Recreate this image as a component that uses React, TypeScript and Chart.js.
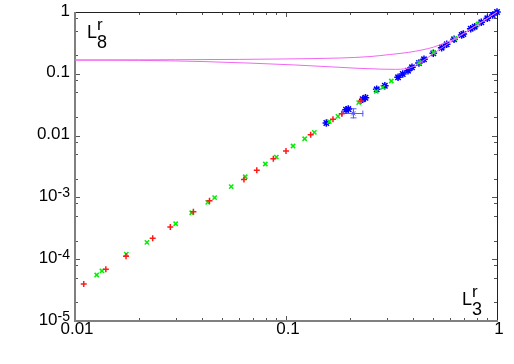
import React, { useEffect, useRef } from 'react';
import { Chart, registerables } from 'chart.js';

Chart.register(...registerables);

// ---- data ----
const redX = [0.011, 0.014, 0.01745, 0.02335, 0.0283, 0.0364, 0.0434, 0.0632, 0.0727, 0.0871, 0.1, 0.1309, 0.167, 0.1837, 0.2268];
const redY = [3.97e-5, 6.87e-5, 1.115e-4, 2.18e-4, 3.32e-4, 5.87e-4, 8.85e-4, 1.95e-3, 2.75e-3, 4.22e-3, 5.63e-3, 0.01035, 0.01836, 0.0226, 0.0363];

const greenX = [0.01267, 0.01342, 0.0175, 0.02193, 0.03, 0.03573, 0.04256, 0.0459, 0.055, 0.0641, 0.0798, 0.09, 0.108, 0.1226, 0.1362, 0.1604, 0.1763, 0.2211, 0.2679, 0.2873, 0.3155, 0.4266, 0.5, 0.632, 0.813];
const greenY = [5.55e-5, 6.45e-5, 1.21e-4, 1.875e-4, 3.75e-4, 5.64e-4, 8.33e-4, 9.9e-4, 1.49e-3, 2.16e-3, 3.47e-3, 4.5e-3, 6.79e-3, 8.9e-3, 0.0113, 0.0168, 0.0205, 0.0341, 0.0521, 0.0605, 0.0765, 0.151, 0.221, 0.373, 0.64];

const blueX = [0.1553, 0.1925, 0.1974, 0.231, 0.238, 0.2691, 0.294, 0.3397, 0.3575, 0.3786, 0.3954, 0.4266, 0.4508, 0.4989, 0.5466, 0.5776, 0.6258, 0.68, 0.6925, 0.7505, 0.7839, 0.8424, 0.8995, 0.954, 1.0];
const blueY = [0.016, 0.0262, 0.0269, 0.0388, 0.041, 0.0561, 0.0641, 0.0877, 0.0993, 0.1122, 0.1273, 0.1496, 0.1717, 0.2147, 0.2646, 0.3, 0.3614, 0.4246, 0.4406, 0.537, 0.578, 0.681, 0.791, 0.894, 1.0];

const blueErrX = [0.2084];
const blueErrY = [0.02296];
const blueErrXLo = [0.1837];
const blueErrXHi = [0.2325];
const blueErrYLo = [0.019];
const blueErrYHi = [0.0277];

const upperX = [0.01, 0.03, 0.06, 0.1, 0.18, 0.25, 0.31, 0.38, 0.446, 0.5, 0.555, 0.61, 0.668, 0.75, 0.84, 1];
const upperY = [0.167, 0.169, 0.171, 0.174, 0.18, 0.19, 0.205, 0.222, 0.245, 0.27, 0.308, 0.35, 0.415, 0.53, 0.675, 1];

const lowerX = [0.01, 0.02, 0.04, 0.0675, 0.11, 0.16, 0.217, 0.28, 0.33, 0.37, 0.4, 0.43, 0.5, 0.58, 0.69, 0.84, 1];
const lowerY = [0.167, 0.165, 0.158, 0.149, 0.139, 0.13, 0.123, 0.119, 0.118, 0.121, 0.13, 0.15, 0.212, 0.3, 0.44, 0.68, 1];

const xTickValues = [0.01, 0.1, 1];
const xTickLabels = ['0.01', '0.1', '1'];
const yTickValues = [1, 0.1, 0.01, 1e-3, 1e-4, 1e-5];
const yTickBase = ['1', '0.1', '0.01', '10', '10', '10'];
const yTickExp = ['', '', '', '-3', '-4', '-5'];

const yLabelAnchor = { x: 0.0114, y: 0.3796 };
const xLabelAnchor = { x: 0.6825, y: 1.815e-5 };

const pts = (xs: number[], ys: number[]) => xs.map((x, i) => ({ x, y: ys[i] }));

const FONT = '"Liberation Sans", Arial, Helvetica, sans-serif';

const framePlugin = {
  id: 'gnuFrame',
  beforeDatasetsDraw(chart: any) {
    const { ctx, chartArea: a, scales } = chart;
    const xs = scales.x;
    const ys = scales.y;
    ctx.save();
    ctx.strokeStyle = '#555';
    ctx.lineWidth = 1;
    ctx.beginPath();
    const xTick = (v: number, len: number) => {
      const p = Math.round(xs.getPixelForValue(v)) + 0.5;
      ctx.moveTo(p, a.bottom);
      ctx.lineTo(p, a.bottom - len);
      ctx.moveTo(p, a.top);
      ctx.lineTo(p, a.top + len);
    };
    const yTick = (v: number, len: number) => {
      const p = Math.round(ys.getPixelForValue(v)) + 0.5;
      ctx.moveTo(a.left, p);
      ctx.lineTo(a.left + len, p);
      ctx.moveTo(a.right, p);
      ctx.lineTo(a.right - len, p);
    };
    for (let e = -2; e <= 0; e++) {
      const d = Math.pow(10, e);
      xTick(d, 5);
      if (e < 0) for (let s = 2; s <= 9; s++) xTick(d * s, 3);
    }
    for (let e = -5; e <= 0; e++) {
      const d = Math.pow(10, e);
      yTick(d, 5);
      if (e < 0) [2, 5, 8].forEach((s) => yTick(d * s, 3));
    }
    ctx.stroke();
    ctx.strokeStyle = '#222';
    ctx.lineWidth = 1;
    ctx.beginPath();
    ctx.moveTo(a.left, a.top + 0.5);
    ctx.lineTo(a.right + 0.5, a.top + 0.5);
    ctx.lineTo(a.right + 0.5, a.bottom);
    ctx.stroke();
    ctx.strokeStyle = '#808080';
    ctx.lineWidth = 2;
    ctx.beginPath();
    ctx.moveTo(a.left, a.top);
    ctx.lineTo(a.left, a.bottom);
    ctx.lineTo(a.right + 1, a.bottom);
    ctx.stroke();
    ctx.strokeStyle = '#5a5aff';
    ctx.lineWidth = 1;
    ctx.beginPath();
    blueErrX.forEach((xv, i) => {
      const px = Math.round(xs.getPixelForValue(xv)) + 0.5;
      const py = Math.round(ys.getPixelForValue(blueErrY[i])) + 0.5;
      const x0 = xs.getPixelForValue(blueErrXLo[i]);
      const x1 = xs.getPixelForValue(blueErrXHi[i]);
      const y0 = ys.getPixelForValue(blueErrYLo[i]);
      const y1 = ys.getPixelForValue(blueErrYHi[i]);
      ctx.moveTo(x0, py); ctx.lineTo(x1, py);
      ctx.moveTo(x0 + 0.5, py - 3); ctx.lineTo(x0 + 0.5, py + 3);
      ctx.moveTo(x1 - 0.5, py - 3); ctx.lineTo(x1 - 0.5, py + 3);
      ctx.moveTo(px, y0); ctx.lineTo(px, y1);
      ctx.moveTo(px - 3, y0 - 0.5); ctx.lineTo(px + 3, y0 - 0.5);
      ctx.moveTo(px - 3, y1 + 0.5); ctx.lineTo(px + 3, y1 + 0.5);
    });
    ctx.stroke();
    ctx.restore();
  },
  afterDraw(chart: any) {
    const { ctx, chartArea: a, scales } = chart;
    const xs = scales.x;
    const ys = scales.y;
    ctx.save();
    ctx.fillStyle = '#000';
    ctx.textBaseline = 'alphabetic';
    ctx.font = `17px ${FONT}`;
    ctx.textAlign = 'center';
    xTickValues.forEach((v, i) => {
      ctx.fillText(xTickLabels[i], xs.getPixelForValue(v) + 2, a.bottom + 13);
    });
    const rx = a.left - 5;
    yTickValues.forEach((v, i) => {
      const py = ys.getPixelForValue(v) + 3.5;
      ctx.textAlign = 'right';
      let edge = rx;
      if (yTickExp[i]) {
        ctx.font = `14px ${FONT}`;
        ctx.fillText(yTickExp[i], edge, py - 4);
        edge -= ctx.measureText(yTickExp[i]).width;
      }
      ctx.font = `17px ${FONT}`;
      ctx.fillText(yTickBase[i], edge, py);
    });
    const drawName = (anchor: { x: number; y: number }, sub: string) => {
      const px = xs.getPixelForValue(anchor.x);
      const py = ys.getPixelForValue(anchor.y);
      ctx.textAlign = 'left';
      ctx.font = `18px ${FONT}`;
      ctx.fillText('L', px, py);
      const w = ctx.measureText('L').width;
      ctx.fillText(sub, px + w, py + 10);
      ctx.font = `17px ${FONT}`;
      ctx.fillText('r', px + w, py - 8);
    };
    drawName(yLabelAnchor, '8');
    drawName(xLabelAnchor, '3');
    ctx.restore();
  },
};

export default function App() {
  const ref = useRef<HTMLCanvasElement | null>(null);
  useEffect(() => {
    if (!ref.current) return;
    const chart = new Chart(ref.current, {
      type: 'scatter',
      data: {
        datasets: [
          {
            label: 'upper',
            data: pts(upperX, upperY),
            showLine: true,
            borderColor: '#f266f2',
            borderWidth: 1,
            pointRadius: 0,
            cubicInterpolationMode: 'monotone',
            clip: false,
          } as any,
          {
            label: 'lower',
            data: pts(lowerX, lowerY),
            showLine: true,
            borderColor: '#f266f2',
            borderWidth: 1,
            pointRadius: 0,
            cubicInterpolationMode: 'monotone',
            clip: false,
          } as any,
          {
            label: 'red',
            data: pts(redX, redY),
            pointStyle: 'cross',
            pointRadius: 3,
            borderColor: '#ff1a1a',
            borderWidth: 1.5,
            clip: false,
          } as any,
          {
            label: 'green',
            data: pts(greenX, greenY),
            pointStyle: 'crossRot',
            pointRadius: 3,
            borderColor: '#00ee00',
            borderWidth: 1.5,
            clip: false,
          } as any,
          {
            label: 'blueErr',
            data: pts(blueErrX, blueErrY),
            pointStyle: 'star',
            pointRadius: 3,
            borderColor: '#5a5aff',
            borderWidth: 1,
            clip: false,
          } as any,
          {
            label: 'blue',
            data: pts(blueX, blueY),
            pointStyle: 'star',
            pointRadius: 3.8,
            borderColor: '#0000ff',
            borderWidth: 1.5,
            clip: false,
          } as any,
        ],
      },
      options: {
        animation: false,
        responsive: false,
        devicePixelRatio: 1,
        layout: { padding: { top: 12, right: 17, left: 0, bottom: 0 } },
        plugins: { legend: { display: false }, tooltip: { enabled: false } },
        scales: {
          x: {
            type: 'logarithmic',
            min: 0.01,
            max: 1,
            grid: { display: false, drawTicks: false },
            border: { display: false },
            ticks: { display: false },
            afterFit: (s: any) => { s.height = 43; },
          },
          y: {
            type: 'logarithmic',
            min: 1e-5,
            max: 1,
            grid: { display: false, drawTicks: false },
            border: { display: false },
            ticks: { display: false },
            afterFit: (s: any) => { s.width = 75; },
          },
        },
      } as any,
      plugins: [framePlugin],
    });
    return () => chart.destroy();
  }, []);
  return (
    <div style={{ position: 'absolute', left: 0, top: 0, width: 514, height: 364, background: '#fff' }}>
      <canvas ref={ref} width={514} height={364} style={{ display: 'block' }} />
    </div>
  );
}
